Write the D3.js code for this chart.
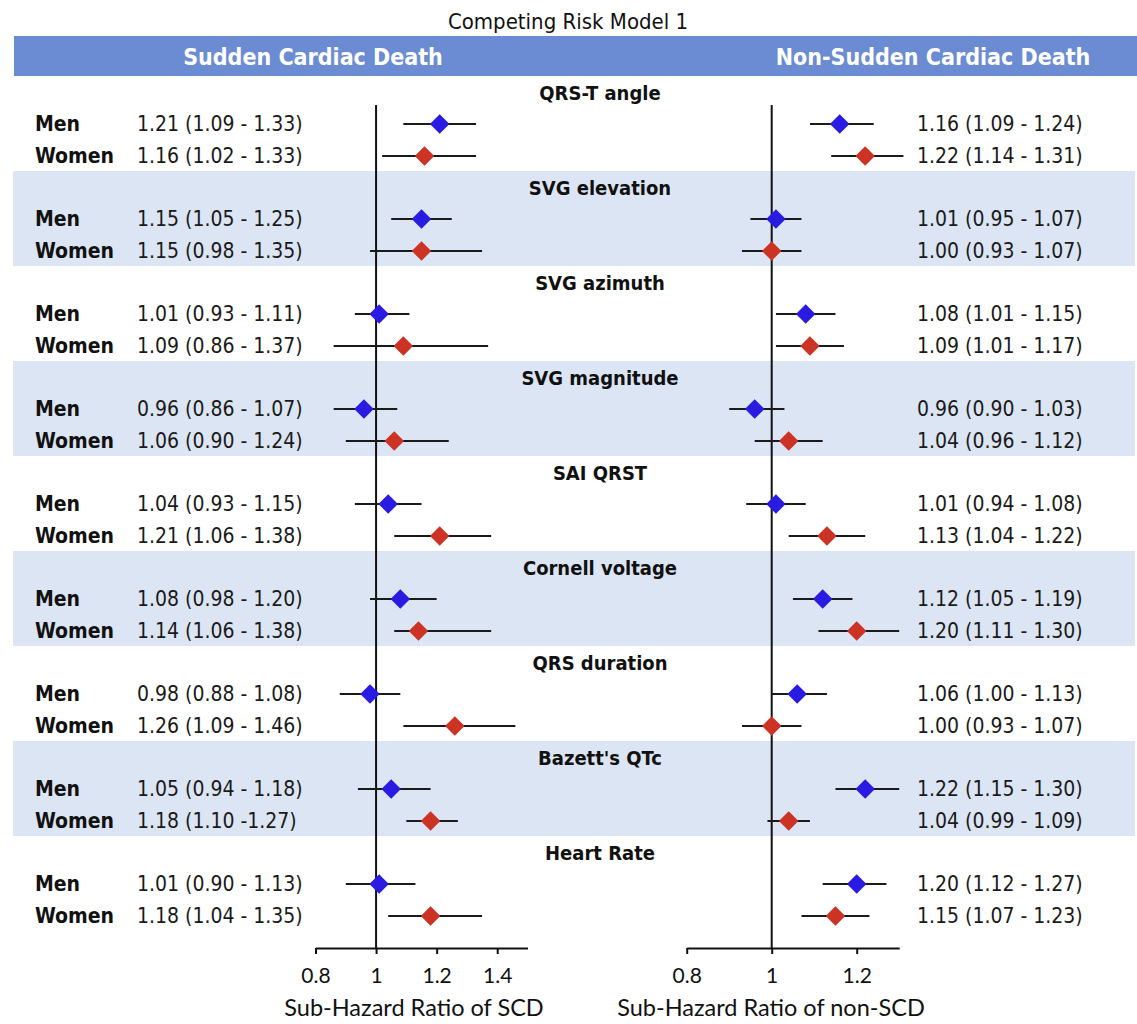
<!DOCTYPE html>
<html>
<head>
<meta charset="utf-8">
<script src="https://cdn.jsdelivr.net/npm/d3@7"></script>
<style>
  body { margin: 0; background: #fff; }
  svg { display: block; }
  .cond { font-family: "DejaVu Sans Condensed", "DejaVu Sans", Verdana, sans-serif; font-stretch: condensed; }
  .axis text { font-family: Lato, "Open Sans", sans-serif; font-size: 21px; fill: #111; }
</style>
</head>
<body>
<div id="chart"></div>
<script>
// ---- data ----
const groups = ["QRS-T angle", "SVG elevation", "SVG azimuth", "SVG magnitude", "SAI QRST",
                "Cornell voltage", "QRS duration", "Bazett's QTc", "Heart Rate"];

// sudden cardiac death
const scdMenHR   = [1.21, 1.15, 1.01, 0.96, 1.04, 1.08, 0.98, 1.05, 1.01];
const scdMenLo   = [1.09, 1.05, 0.93, 0.86, 0.93, 0.98, 0.88, 0.94, 0.90];
const scdMenHi   = [1.33, 1.25, 1.11, 1.07, 1.15, 1.20, 1.08, 1.18, 1.13];
const scdWomenHR = [1.16, 1.15, 1.09, 1.06, 1.21, 1.14, 1.26, 1.18, 1.18];
const scdWomenLo = [1.02, 0.98, 0.86, 0.90, 1.06, 1.06, 1.09, 1.10, 1.04];
const scdWomenHi = [1.33, 1.35, 1.37, 1.24, 1.38, 1.38, 1.46, 1.27, 1.35];

// non-sudden cardiac death
const nonMenHR   = [1.16, 1.01, 1.08, 0.96, 1.01, 1.12, 1.06, 1.22, 1.20];
const nonMenLo   = [1.09, 0.95, 1.01, 0.90, 0.94, 1.05, 1.00, 1.15, 1.12];
const nonMenHi   = [1.24, 1.07, 1.15, 1.03, 1.08, 1.19, 1.13, 1.30, 1.27];
const nonWomenHR = [1.22, 1.00, 1.09, 1.04, 1.13, 1.20, 1.00, 1.04, 1.15];
const nonWomenLo = [1.14, 0.93, 1.01, 0.96, 1.04, 1.11, 0.93, 0.99, 1.07];
const nonWomenHi = [1.31, 1.07, 1.17, 1.12, 1.22, 1.30, 1.07, 1.09, 1.23];

// printed labels (as in the figure)
const scdMenText = ["1.21 (1.09 - 1.33)", "1.15 (1.05 - 1.25)", "1.01 (0.93 - 1.11)", "0.96 (0.86 - 1.07)",
  "1.04 (0.93 - 1.15)", "1.08 (0.98 - 1.20)", "0.98 (0.88 - 1.08)", "1.05 (0.94 - 1.18)", "1.01 (0.90 - 1.13)"];
const scdWomenText = ["1.16 (1.02 - 1.33)", "1.15 (0.98 - 1.35)", "1.09 (0.86 - 1.37)", "1.06 (0.90 - 1.24)",
  "1.21 (1.06 - 1.38)", "1.14 (1.06 - 1.38)", "1.26 (1.09 - 1.46)", "1.18 (1.10 -1.27)", "1.18 (1.04 - 1.35)"];
const nonMenText = ["1.16 (1.09 - 1.24)", "1.01 (0.95 - 1.07)", "1.08 (1.01 - 1.15)", "0.96 (0.90 - 1.03)",
  "1.01 (0.94 - 1.08)", "1.12 (1.05 - 1.19)", "1.06 (1.00 - 1.13)", "1.22 (1.15 - 1.30)", "1.20 (1.12 - 1.27)"];
const nonWomenText = ["1.22 (1.14 - 1.31)", "1.00 (0.93 - 1.07)", "1.09 (1.01 - 1.17)", "1.04 (0.96 - 1.12)",
  "1.13 (1.04 - 1.22)", "1.20 (1.11 - 1.30)", "1.00 (0.93 - 1.07)", "1.04 (0.99 - 1.09)", "1.15 (1.07 - 1.23)"];

const scdTicks = [0.8, 1, 1.2, 1.4];
const nonTicks = [0.8, 1, 1.2];

const blue = "#2a1be3";
const red = "#cc3324";

const width = 1137, height = 1024;
const axisY = 948;

const svg = d3.select("#chart").append("svg")
    .attr("width", width)
    .attr("height", height);

// one band per marker group
const y = d3.scaleBand()
    .domain(groups)
    .range([76, 76 + groups.length * 95]);

// shaded alternate groups
svg.selectAll("rect.band")
    .data(groups.filter((g, i) => i % 2 === 1))
    .enter()
    .append("rect")
    .attr("class", "band")
    .attr("x", 13)
    .attr("y", d => y(d))
    .attr("width", 1122)
    .attr("height", y.bandwidth())
    .attr("fill", "#dce5f4");

// title + header strip
svg.append("text")
    .attr("class", "cond")
    .attr("x", 568).attr("y", 21)
    .attr("text-anchor", "middle")
    .attr("dominant-baseline", "central")
    .attr("font-size", "22px")
    .attr("fill", "#111")
    .text("Competing Risk Model 1");

svg.append("rect")
    .attr("x", 14).attr("y", 36)
    .attr("width", 1123).attr("height", 40)
    .attr("fill", "#6b8cd2");

[["Sudden Cardiac Death", 313], ["Non-Sudden Cardiac Death", 933]].forEach(([t, cx]) => {
    svg.append("text")
        .attr("class", "cond")
        .attr("x", cx).attr("y", 57)
        .attr("text-anchor", "middle")
        .attr("dominant-baseline", "central")
        .attr("font-size", "23px")
        .attr("font-weight", "bold")
        .attr("fill", "#fff")
        .text(t);
});

// group titles and Men / Women labels
const rows = svg.selectAll("g.row")
    .data(groups)
    .enter()
    .append("g")
    .attr("class", "row cond")
    .attr("transform", d => `translate(0,${y(d)})`);

rows.append("text")
    .attr("x", 600).attr("y", 17)
    .attr("text-anchor", "middle")
    .attr("dominant-baseline", "central")
    .attr("font-size", "20px")
    .attr("font-weight", "bold")
    .attr("fill", "#111")
    .text(d => d);

[["Men", 48], ["Women", 80]].forEach(([t, dy]) => {
    rows.append("text")
        .attr("x", 35).attr("y", dy)
        .attr("dominant-baseline", "central")
        .attr("font-size", "21px")
        .attr("font-weight", "bold")
        .attr("fill", "#111")
        .text(t);
});

function drawPanel(cfg) {
    const x = d3.scaleLinear().domain(cfg.domain).range(cfg.range);
    const g = svg.append("g");

    // reference line at 1
    g.append("line")
        .attr("x1", x(1)).attr("x2", x(1))
        .attr("y1", 105).attr("y2", axisY)
        .attr("stroke", "#111")
        .attr("stroke-width", 2);

    const series = [
        { hr: cfg.menHR, lo: cfg.menLo, hi: cfg.menHi, text: cfg.menText, dy: 48, color: blue },
        { hr: cfg.womenHR, lo: cfg.womenLo, hi: cfg.womenHi, text: cfg.womenText, dy: 80, color: red }
    ];

    series.forEach(s => {
        const pts = groups.map((name, i) => ({ name, hr: s.hr[i], lo: s.lo[i], hi: s.hi[i], text: s.text[i] }));

        g.selectAll(null)
            .data(pts)
            .enter()
            .append("line")
            .attr("x1", d => x(d.lo))
            .attr("x2", d => x(d.hi))
            .attr("y1", d => y(d.name) + s.dy)
            .attr("y2", d => y(d.name) + s.dy)
            .attr("stroke", "#1a1a1a")
            .attr("stroke-width", 2);

        g.selectAll(null)
            .data(pts)
            .enter()
            .append("path")
            .attr("d", d3.symbol(d3.symbolSquare, 190))
            .attr("transform", d => `translate(${x(d.hr)},${y(d.name) + s.dy}) rotate(45)`)
            .attr("fill", s.color);

        g.selectAll(null)
            .data(pts)
            .enter()
            .append("text")
            .attr("class", "cond")
            .attr("x", cfg.textX)
            .attr("y", d => y(d.name) + s.dy)
            .attr("dominant-baseline", "central")
            .attr("font-size", "21px")
            .attr("fill", "#1a1a1a")
            .text(d => d.text);
    });

    // bottom axis
    g.append("g")
        .attr("class", "axis")
        .attr("transform", `translate(0,${axisY})`)
        .call(d3.axisBottom(x)
            .tickValues(cfg.ticks)
            .tickFormat(d => String(d))
            .tickSizeInner(6)
            .tickSizeOuter(0)
            .tickPadding(14))
        .call(a => a.select(".domain").attr("stroke", "#111").attr("stroke-width", 2))
        .call(a => a.selectAll(".tick line").attr("stroke", "#111").attr("stroke-width", 2));

    g.append("text")
        .attr("x", cfg.titleX).attr("y", 1007)
        .attr("text-anchor", "middle")
        .attr("dominant-baseline", "central")
        .attr("font-family", "Lato, 'Open Sans', sans-serif")
        .attr("font-size", "23.5px")
        .attr("fill", "#111")
        .text(cfg.title);
}

drawPanel({
    domain: [0.8, 1.5], range: [315.5, 527.5], ticks: scdTicks,
    menHR: scdMenHR, menLo: scdMenLo, menHi: scdMenHi,
    womenHR: scdWomenHR, womenLo: scdWomenLo, womenHi: scdWomenHi,
    menText: scdMenText, womenText: scdWomenText,
    textX: 137, title: "Sub-Hazard Ratio of SCD", titleX: 414
});

drawPanel({
    domain: [0.8, 1.3], range: [686.7, 899.2], ticks: nonTicks,
    menHR: nonMenHR, menLo: nonMenLo, menHi: nonMenHi,
    womenHR: nonWomenHR, womenLo: nonWomenLo, womenHi: nonWomenHi,
    menText: nonMenText, womenText: nonWomenText,
    textX: 917, title: "Sub-Hazard Ratio of non-SCD", titleX: 771
});
</script>
</body>
</html>
